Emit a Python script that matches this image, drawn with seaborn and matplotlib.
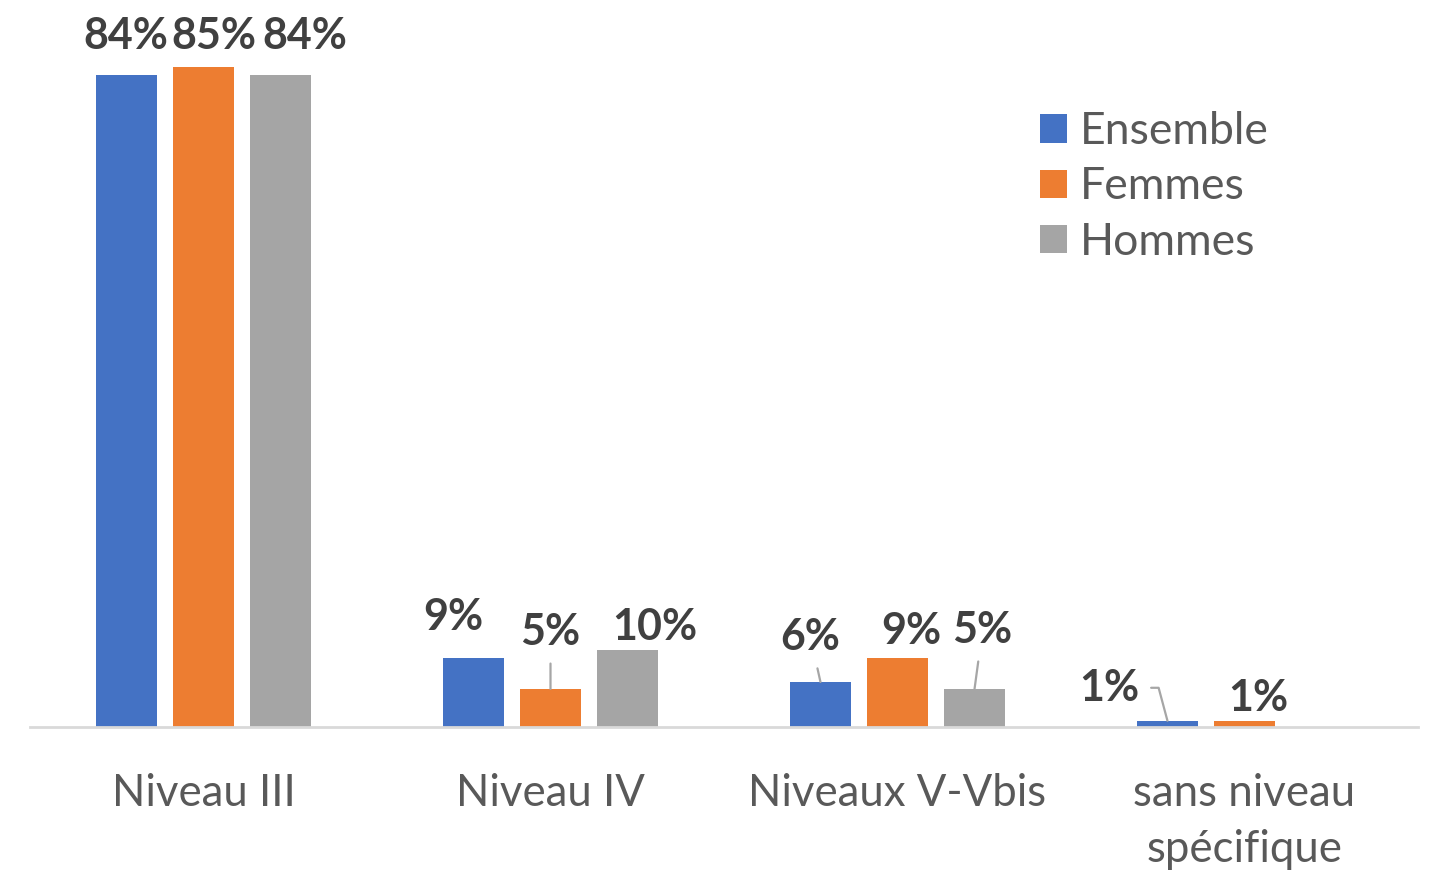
import numpy as np
import pandas as pd
import seaborn as sns
import matplotlib.pyplot as plt

categories = ["Niveau III", "Niveau IV", "Niveaux V-Vbis", "sans niveau\nspécifique"]
series = ["Ensemble", "Femmes", "Hommes"]
ensemble = [84.0, 8.9, 5.8, 0.8]
femmes = [85.0, 4.9, 8.9, 0.8]
hommes = [84.0, 9.9, 4.9, np.nan]
colors = ["#4472C4", "#ED7D31", "#A5A5A5"]

df = pd.DataFrame({
    "niveau": categories * 3,
    "groupe": [s for s in series for _ in categories],
    "valeur": ensemble + femmes + hommes,
})

sns.set_style("white")
plt.rcParams["font.family"] = ["Lato", "DejaVu Sans"]

fig = plt.figure(figsize=(14.29, 8.71), dpi=100)
ax = fig.add_axes([30 / 1429, 144 / 871, 1388 / 1429, 699 / 871])

sns.barplot(data=df.dropna(), x="niveau", y="valeur", hue="groupe", order=categories,
            hue_order=series, palette=colors, saturation=1, width=0.666, gap=0.208,
            linewidth=0, ax=ax)

ax.set_ylim(0, 90)
ax.set_xlim(-0.5, 3.5)
ax.set_xlabel("")
ax.set_ylabel("")
ax.set_yticks([])
for s in ["left", "right", "top"]:
    ax.spines[s].set_visible(False)
ax.spines["bottom"].set_color("#d9d9d9")
ax.spines["bottom"].set_linewidth(2)
ax.tick_params(axis="x", length=0, pad=33, labelsize=31.5, labelcolor="#595959")
for t in ax.get_xticklabels():
    t.set_linespacing(1.45)

# label placement (pixels, relative to bar top centre)
offsets = {
    ("Ensemble", 0): (-1, 39), ("Femmes", 0): (10, 31), ("Hommes", 0): (24, 39),
    ("Ensemble", 1): (-20, 41), ("Femmes", 1): (0, 57), ("Hommes", 1): (27, 23),
    ("Ensemble", 2): (-10, 45), ("Femmes", 2): (14, 27), ("Hommes", 2): (8, 59),
    ("Ensemble", 3): (-58, 33), ("Femmes", 3): (14, 23),
}
leaders = {("Femmes", 1), ("Ensemble", 2), ("Hommes", 2), ("Ensemble", 3)}

for name, cont in zip(series, ax.containers):
    for bar in cont:
        cx = bar.get_x() + bar.get_width() / 2
        top = bar.get_height()
        if np.isnan(top):
            continue
        k = int(round(cx))
        dx, dy = offsets[(name, k)]
        arrow = None
        if (name, k) in leaders:
            cs = "angle,angleA=0,angleB=105,rad=0" if k == 3 else "arc3"
            arrow = dict(arrowstyle="-", color="#a6a6a6", lw=1.6, shrinkA=6, shrinkB=0,
                         connectionstyle=cs)
        ax.annotate(f"{top:.0f}%", xy=(cx, top), xytext=(dx, dy), textcoords="offset pixels",
                    ha="center", va="center", fontsize=31, fontweight="bold",
                    color="#404040", arrowprops=arrow, annotation_clip=False)

leg = ax.legend(loc="upper left", bbox_to_anchor=(1018 / 1429, 1 - 89 / 871),
                bbox_transform=fig.transFigure, frameon=False, fontsize=32,
                handlelength=0.6, handleheight=0.6, handletextpad=0.3,
                labelspacing=0.32, borderpad=0)
for t in leg.get_texts():
    t.set_color("#595959")

fig.savefig("out.png", dpi=100)
